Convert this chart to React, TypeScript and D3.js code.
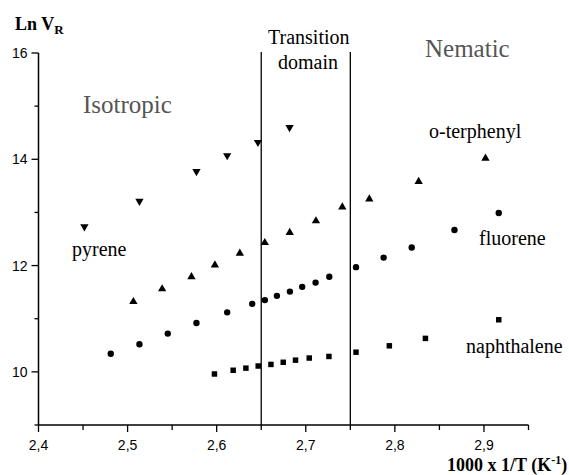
import React from "react";
import * as d3 from "d3";

const pyreneX = [2.4515, 2.5133, 2.5773, 2.6118, 2.6463, 2.6818];
const pyreneY = [12.73, 13.21, 13.77, 14.07, 14.32, 14.6];

const terphenylX = [2.5065, 2.5388, 2.5717, 2.598, 2.626, 2.654, 2.682, 2.7114, 2.741, 2.7713, 2.8267, 2.9017];
const terphenylY = [11.32, 11.56, 11.79, 12.01, 12.23, 12.43, 12.62, 12.84, 13.1, 13.25, 13.58, 14.02];

const fluoreneX = [2.4811, 2.5133, 2.5451, 2.5773, 2.6118, 2.6399, 2.6541, 2.6676, 2.6822, 2.696, 2.711, 2.7264, 2.7564, 2.7874, 2.8189, 2.8669, 2.9166];
const fluoreneY = [10.34, 10.52, 10.72, 10.92, 11.12, 11.28, 11.35, 11.43, 11.51, 11.6, 11.68, 11.79, 11.97, 12.15, 12.34, 12.67, 12.99];

const naphX = [2.5975, 2.6185, 2.6328, 2.6466, 2.6609, 2.6747, 2.6885, 2.7039, 2.726, 2.7564, 2.7938, 2.8343, 2.9166];
const naphY = [9.96, 10.03, 10.07, 10.11, 10.14, 10.18, 10.22, 10.26, 10.29, 10.37, 10.49, 10.63, 10.98];

const xMajor = [2.4, 2.5, 2.6, 2.7, 2.8, 2.9];
const xMinor = [2.45, 2.55, 2.65, 2.75, 2.85, 2.95];
const yMajor = [10, 12, 14, 16];
const yMinor = [9, 11, 13, 15];
const transitions = [2.65, 2.75];

const W = 569, H = 475;
const x = d3.scaleLinear().domain([2.4, 2.95]).range([38.5, 528.5]);
const y = d3.scaleLinear().domain([9, 16]).range([425, 53]);

const serif = "Liberation Serif";
const sans = "Liberation Sans";

const tri = d3.symbol().type(d3.symbolTriangle).size(30)();
const circ = d3.symbol().type(d3.symbolCircle).size(32)();
const sq = d3.symbol().type(d3.symbolSquare).size(30)();

function pts(xs: number[], ys: number[]) {
  return xs.map((v, i) => [x(v), y(ys[i])] as [number, number]);
}

export default function App() {
  const fmt = (v: number) => v.toFixed(1).replace(".", ",");
  return (
    <svg width={W} height={H} style={{ position: "absolute", left: 0, top: 0, background: "#fff" }}>
      <line x1={x(2.4)} x2={x(2.95)} y1={y(9)} y2={y(9)} stroke="#000" strokeWidth={1.5} />
      <line x1={x(2.4)} x2={x(2.4)} y1={y(9)} y2={y(16)} stroke="#000" strokeWidth={1.5} />
      {xMajor.map((v) => (
        <g key={"xm" + v}>
          <line x1={x(v)} x2={x(v)} y1={y(9)} y2={y(9) + 7} stroke="#000" strokeWidth={1.3} />
          <text x={x(v)} y={y(9) + 25} textAnchor="middle" fontFamily={sans} fontSize={14}>{fmt(v)}</text>
        </g>
      ))}
      {xMinor.map((v) => (
        <line key={"xn" + v} x1={x(v)} x2={x(v)} y1={y(9)} y2={y(9) + 5} stroke="#000" strokeWidth={1.3} />
      ))}
      {yMajor.map((v) => (
        <g key={"ym" + v}>
          <line x1={x(2.4) - 7} x2={x(2.4)} y1={y(v)} y2={y(v)} stroke="#000" strokeWidth={1.3} />
          <text x={x(2.4) - 11} y={y(v) + 5} textAnchor="end" fontFamily={sans} fontSize={14}>{v}</text>
        </g>
      ))}
      {yMinor.map((v) => (
        <line key={"yn" + v} x1={x(2.4) - 4} x2={x(2.4)} y1={y(v)} y2={y(v)} stroke="#000" strokeWidth={1.3} />
      ))}
      {transitions.map((v) => (
        <line key={"t" + v} x1={x(v)} x2={x(v)} y1={52} y2={y(9)} stroke="#000" strokeWidth={1.3} />
      ))}

      {pts(pyreneX, pyreneY).map(([px, py], i) => (
        <path key={"p" + i} d={tri!} transform={`translate(${px},${py}) rotate(180)`} fill="#000" />
      ))}
      {pts(terphenylX, terphenylY).map(([px, py], i) => (
        <path key={"t" + i} d={tri!} transform={`translate(${px},${py})`} fill="#000" />
      ))}
      {pts(fluoreneX, fluoreneY).map(([px, py], i) => (
        <path key={"f" + i} d={circ!} transform={`translate(${px},${py})`} fill="#000" />
      ))}
      {pts(naphX, naphY).map(([px, py], i) => (
        <path key={"n" + i} d={sq!} transform={`translate(${px},${py})`} fill="#000" />
      ))}

      <text x={15} y={30} fontFamily={serif} fontSize={18} fontWeight="bold">
        Ln V<tspan dy={4} fontSize={13}>R</tspan>
      </text>
      <text x={447} y={471} fontFamily={serif} fontSize={18} fontWeight="bold">
        1000 x 1/T (K<tspan dy={-7} fontSize={12}>-1</tspan><tspan dy={7}>)</tspan>
      </text>
      <text x={83} y={113} fontFamily={serif} fontSize={25} fill="#555">Isotropic</text>
      <text x={425} y={57} fontFamily={serif} fontSize={25} fill="#555">Nematic</text>
      <text x={268} y={44} fontFamily={serif} fontSize={20}>Transition</text>
      <text x={278} y={69} fontFamily={serif} fontSize={20}>domain</text>
      <text x={429} y={138} fontFamily={serif} fontSize={20}>o-terphenyl</text>
      <text x={72} y={256} fontFamily={serif} fontSize={20}>pyrene</text>
      <text x={479} y={245} fontFamily={serif} fontSize={20}>fluorene</text>
      <text x={466} y={353} fontFamily={serif} fontSize={20}>naphthalene</text>
    </svg>
  );
}
